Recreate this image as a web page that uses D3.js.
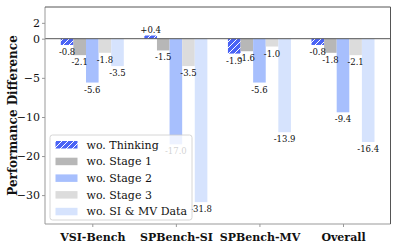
<!DOCTYPE html>
<html><head><meta charset="utf-8">
<script src="https://cdn.jsdelivr.net/npm/d3@7"></script>
<style>body{margin:0;background:#fff}svg{display:block}</style>
</head><body><svg id="c" width="398" height="249"></svg>
<script>
const categories = ["VSI-Bench","SPBench-SI","SPBench-MV","Overall"];
const seriesNames = ["wo. Thinking","wo. Stage 1","wo. Stage 2","wo. Stage 3","wo. SI & MV Data"];
const thinking = [-0.8, 0.4, -1.9, -0.8];
const stage1 = [-2.1, -1.5, -1.6, -1.8];
const stage2 = [-5.6, -17.0, -5.6, -9.4];
const stage3 = [-1.8, -3.5, -1.0, -2.1];
const simv = [-3.5, -31.8, -13.9, -16.4];
const yTicks = [2, 0, -5, -10, -20, -30];
const colors = ["#4a63f5","#b7b7b7","#a7bffd","#dcdcdc","#d6e3fd"];
const series = [thinking, stage1, stage2, stage3, simv];
const FF = "'DejaVu Serif'";

const svg = d3.select("#c");
const L = 45, R = 390.5, T = 7, B = 224;
const defs = svg.append("defs");
const pat = defs.append("pattern").attr("id","hatch").attr("patternUnits","userSpaceOnUse")
  .attr("width",6).attr("height",6);
pat.append("rect").attr("width",6).attr("height",6).attr("fill",colors[0]);
pat.append("path").attr("d","M-1,7 L7,-1 M-1,1 L1,-1 M5,7 L7,5").attr("stroke","#fff").attr("stroke-width",1);

const x = d3.scalePoint().domain(categories).range([L+47.3, R-47.5]);
const y = d3.scaleLinear().domain([4, 0, -10, -37.4]).range([T, 38.7, 117, B]);
const bw = 12.6;
const inner = d3.scaleBand().domain(d3.range(5)).range([-2.5*bw, 2.5*bw]);

series.forEach((vals, si) => {
  const g = svg.append("g");
  vals.forEach((v, ci) => {
    const cx = x(categories[ci]) + inner(si);
    g.append("rect").attr("x", cx).attr("width", inner.bandwidth())
      .attr("y", Math.min(y(v), y(0))).attr("height", Math.abs(y(v)-y(0)))
      .attr("fill", si===0 ? "url(#hatch)" : colors[si]);
  });
});
series.forEach((vals, si) => {
  vals.forEach((v, ci) => {
    const cx = x(categories[ci]) + inner(si) + inner.bandwidth()/2;
    svg.append("text").attr("x", cx).attr("y", v >= 0 ? y(v) - 3 : y(v) + 10)
      .attr("text-anchor","middle").attr("font-size", 8.5).attr("fill","#111").style("font-family",FF)
      .text(v >= 0 ? "+" + v.toFixed(1) : v.toFixed(1));
  });
});
svg.append("line").attr("x1",L).attr("x2",R).attr("y1",y(0)).attr("y2",y(0)).attr("stroke","#555").attr("stroke-width",1);

const ya = svg.append("g").attr("transform",`translate(${L},0)`)
  .call(d3.axisLeft(y).tickValues(yTicks).tickSize(3).tickPadding(2).tickFormat(d3.format("d")));
ya.select(".domain").remove();
ya.selectAll("line").attr("stroke","#999");
ya.selectAll("text").attr("font-size",11).attr("fill","#111").style("font-family",FF);
const xa = svg.append("g").attr("transform",`translate(0,${B})`)
  .call(d3.axisBottom(x).tickSize(3).tickPadding(6));
xa.select(".domain").remove();
xa.selectAll("line").attr("stroke","#999");
xa.selectAll("text").attr("font-size",11).attr("font-weight","bold").attr("fill","#111").style("font-family",FF);

svg.append("line").attr("x1",L).attr("x2",L).attr("y1",T).attr("y2",B).attr("stroke","#999").attr("stroke-width",1);
svg.append("line").attr("x1",L).attr("x2",R).attr("y1",B).attr("y2",B).attr("stroke","#999").attr("stroke-width",1);
svg.append("line").attr("x1",L).attr("x2",R).attr("y1",T).attr("y2",T).attr("stroke","#555").attr("stroke-width",1);
svg.append("line").attr("x1",R).attr("x2",R).attr("y1",T).attr("y2",B).attr("stroke","#555").attr("stroke-width",1);

svg.append("text").attr("transform",`translate(17,${(T+B)/2}) rotate(-90)`)
  .attr("text-anchor","middle").attr("font-size",12).attr("font-weight","bold").attr("fill","#111").style("font-family",FF)
  .text("Performance Difference");

const lg = svg.append("g").attr("transform","translate(50,135)");
lg.append("rect").attr("width",142).attr("height",85).attr("rx",2.5)
  .attr("fill","#fff").attr("fill-opacity",0.8).attr("stroke","#ccc").attr("stroke-width",0.8);
seriesNames.forEach((n, i) => {
  const yy = 9.5 + i*16.7;
  lg.append("rect").attr("x",5.5).attr("y",yy-3.5).attr("width",22).attr("height",7.5)
    .attr("fill", i===0 ? "url(#hatch)" : colors[i]);
  lg.append("text").attr("x",36.5).attr("y",yy+4).attr("font-size",11).attr("fill","#111").style("font-family",FF).text(n);
});
</script></body></html>
